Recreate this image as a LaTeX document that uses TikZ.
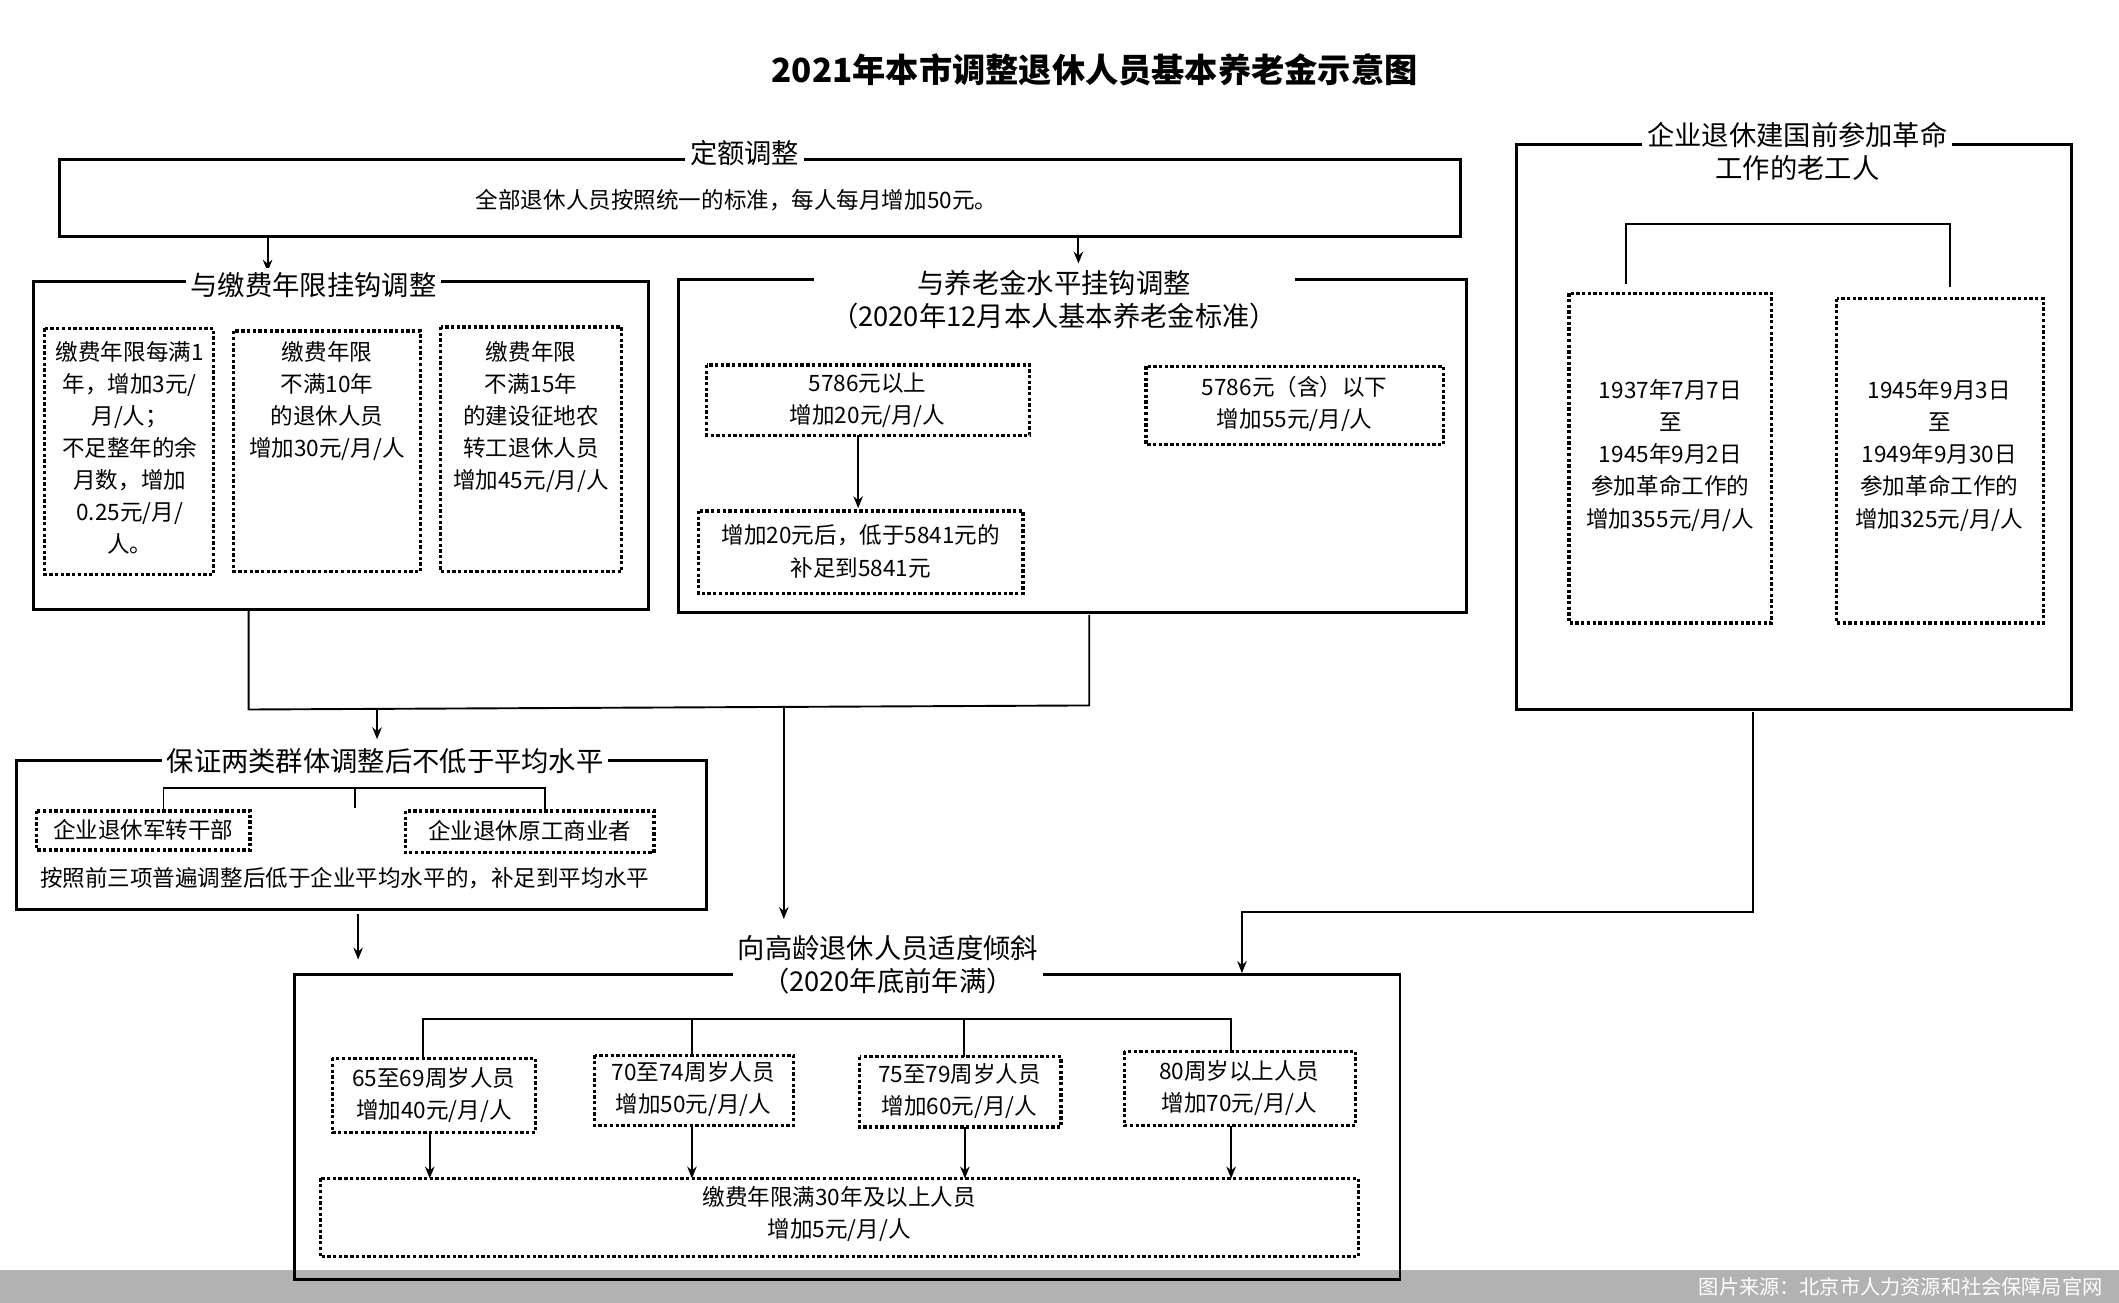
\documentclass[tikz,border=0pt]{standalone}
\usepackage{fontspec}
\setmainfont{Noto Sans CJK SC}
\usetikzlibrary{arrows.meta}
\begin{document}
\begin{tikzpicture}[x=0.02cm,y=-0.02cm,
  frame/.style={draw,line width=1.2pt},
  dbox/.style={draw,line width=1.4pt,densely dotted},
  ttl/.style={fill=white,font=\fontsize{11.5}{14}\selectfont,align=center,inner sep=2pt},
  txt/.style={font=\fontsize{9.5}{13.5}\selectfont,align=center,inner sep=0pt},
  arr/.style={-{Stealth[length=5pt,width=4pt]},line width=0.8pt},
  ln/.style={line width=0.8pt}]
\useasboundingbox (0,0) rectangle (1568,964);
\fill[gray!60] (0,940) rectangle (1568,964);
\node[anchor=east,text=white,font=\fontsize{8.5}{10}\selectfont] (src) at (1562,952) {图片来源：北京市人力资源和社会保障局官网};
\node[font=\bfseries\fontsize{14}{16}\selectfont] (title) at (810,52) {2021年本市调整退休人员基本养老金示意图};
% box 1
\draw[frame] (44,118) rectangle (1081,175);
\node[ttl] (t1) at (551,113) {定额调整};
\node[txt] (b1) at (545,148) {全部退休人员按照统一的标准，每人每月增加50元。};
\coordinate (a1) at (198,175); \coordinate (a1e) at (198,201);
\coordinate (a2) at (798,175); \coordinate (a2e) at (798,195);
\draw[arr] (a1) -- (a1e); \draw[arr] (a2) -- (a2e);
% box 2
\draw[frame] (25,208) rectangle (480,451);
\node[ttl] (t2) at (232,211) {与缴费年限挂钩调整};
\draw[dbox] (33,243) rectangle (158,425);
\draw[dbox] (173,245) rectangle (311,423);
\draw[dbox] (326,242) rectangle (460,423);
\node[txt,anchor=north] (d21) at (96,252) {缴费年限每满1\\年，增加3元/\\月/人；\\不足整年的余\\月数，增加\\0.25元/月/\\人。};
\node[txt,anchor=north] (d22) at (242,252) {缴费年限\\不满10年\\的退休人员\\增加30元/月/人};
\node[txt,anchor=north] (d23) at (393,252) {缴费年限\\不满15年\\的建设征地农\\转工退休人员\\增加45元/月/人};
% box 3
\draw[frame] (602,207) -- (502,207) -- (502,453) -- (1085,453) -- (1085,207) -- (958,207);
\node[txt,font=\fontsize{11.5}{14}\selectfont] (t3) at (780,222) {与养老金水平挂钩调整\\（2020年12月本人基本养老金标准）};
\draw[dbox] (523,270) rectangle (762,322);
\node[txt] (d31) at (642,296) {5786元以上\\增加20元/月/人};
\draw[dbox] (517,378) rectangle (757,439);
\node[txt] (d32) at (637,408) {增加20元后，低于5841元的\\补足到5841元};
\draw[arr] (635,322) -- (635,376);
\draw[dbox] (848,271) rectangle (1068,329);
\node[txt] (d33) at (958,299) {5786元（含）以下\\增加55元/月/人};
% box 4
\draw[frame] (1122,107) rectangle (1533,525);
\node[ttl] (t4) at (1330,112) {企业退休建国前参加革命\\工作的老工人};
\draw[ln] (1203,210) -- (1203,166) -- (1443,166) -- (1443,212);
\draw[dbox] (1161,217) rectangle (1311,461);
\draw[dbox] (1359,221) rectangle (1512,461);
\node[txt] (d41) at (1236,337) {1937年7月7日\\至\\1945年9月2日\\参加革命工作的\\增加355元/月/人};
\node[txt] (d42) at (1435,337) {1945年9月3日\\至\\1949年9月30日\\参加革命工作的\\增加325元/月/人};
% connectors
\draw[ln] (184,451) -- (184,525) -- (806,522) -- (806,455);
\draw[arr] (279,524) -- (279,547);
\draw[arr] (580,523) -- (580,680);
\draw[arr] (1297,527) -- (1297,675) -- (919,675) -- (919,720);
% box 5
\draw[frame] (12,563) rectangle (523,673);
\node[ttl] (t5) at (285,563) {保证两类群体调整后不低于平均水平};
\draw[ln] (121,600) -- (121,583) -- (403,583) -- (403,600);
\draw[ln] (263,583) -- (263,598);
\draw[dbox] (27,600) rectangle (185,629);
\node[txt] (d51) at (106,614) {企业退休军转干部};
\draw[dbox] (300,600) rectangle (484,631);
\node[txt] (d52) at (392,615) {企业退休原工商业者};
\node[txt] (d53) at (255,650) {按照前三项普遍调整后低于企业平均水平的，补足到平均水平};
\draw[arr] (265,676) -- (265,710);
% box 6
\draw[frame] (218,721) rectangle (1036,947);
\node[ttl] (t6) at (657,714) {向高龄退休人员适度倾斜\\（2020年底前年满）};
\draw[ln] (313,783) -- (313,754) -- (911,754) -- (911,778);
\draw[ln] (512,754) -- (512,781); \draw[ln] (713,754) -- (713,782);
\draw[dbox] (246,783) rectangle (396,838);
\draw[dbox] (440,781) rectangle (587,833);
\draw[dbox] (636,782) rectangle (785,834);
\draw[dbox] (832,778) rectangle (1003,833);
\node[txt] (e1) at (321,810) {65至69周岁人员\\增加40元/月/人};
\node[txt] (e2) at (513,806) {70至74周岁人员\\增加50元/月/人};
\node[txt] (e3) at (710,807) {75至79周岁人员\\增加60元/月/人};
\node[txt] (e4) at (917,805) {80周岁以上人员\\增加70元/月/人};
\draw[arr] (318,838) -- (318,872);
\draw[arr] (512,833) -- (512,872);
\draw[arr] (714,834) -- (714,872);
\draw[arr] (911,833) -- (911,872);
\draw[dbox] (237,872) rectangle (1005,930);
\node[txt] (e5) at (621,898) {缴费年限满30年及以上人员\\增加5元/月/人};
\end{tikzpicture}
\end{document}
